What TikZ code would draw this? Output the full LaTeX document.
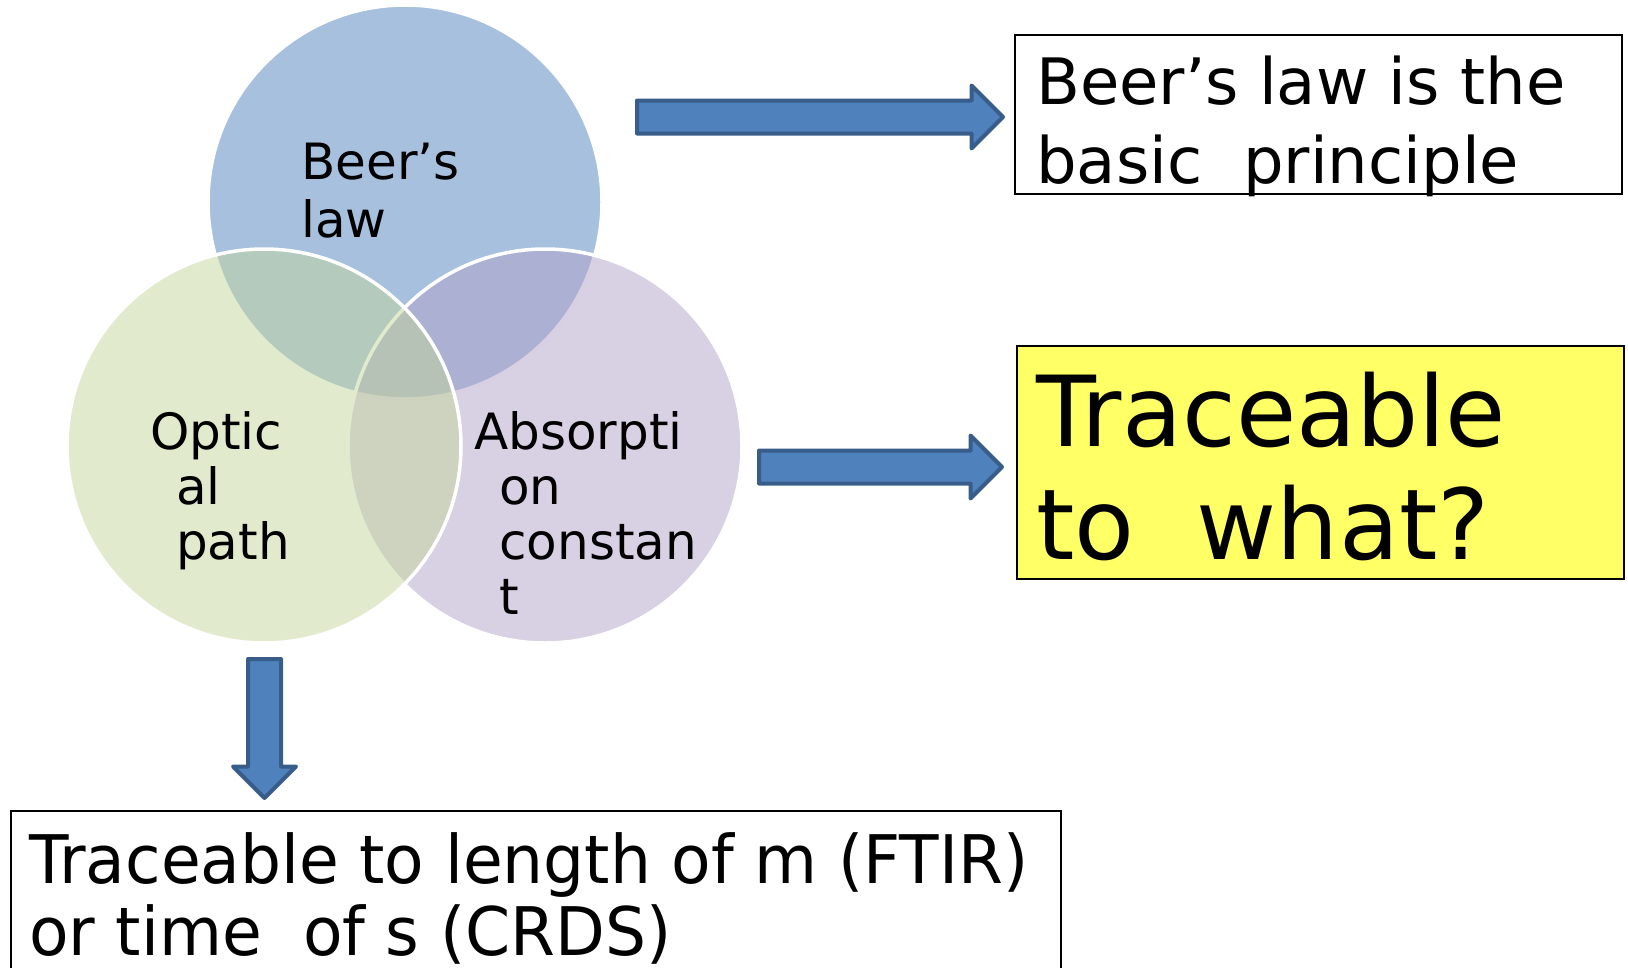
\documentclass[tikz,border=0pt]{standalone}
\usepackage{fontspec}
\setmainfont{DejaVu Sans}
\newfontfamily\narrowfont{DejaVu Sans}[FakeStretch=0.965]
\usetikzlibrary{shapes.arrows}
\definecolor{arrowfill}{HTML}{4F81BD}
\definecolor{arrowline}{HTML}{385D8A}
\definecolor{beerblue}{HTML}{4F81BD}
\definecolor{optgreen}{HTML}{C3D69B}
\definecolor{abspurple}{HTML}{B2A1C7}
\definecolor{notefill}{HTML}{FFFF66}
\begin{document}
\begin{tikzpicture}[x=1pt,y=-1pt,
	venn/.style={circle,draw=white,line width=3.5pt,fill opacity=0.5,minimum size=394pt,inner sep=0pt},
	blockarrow/.style={single arrow,draw=arrowline,fill=arrowfill,line width=4pt,line join=round,
		inner xsep=0pt,inner ysep=14.5pt,single arrow head extend=15pt,single arrow head indent=0pt,anchor=tail},
	box/.style={draw=black,line width=1.5pt,rectangle,inner sep=0pt,anchor=north west},
	txt/.style={anchor=base west,inner sep=0pt,align=left}]
	\useasboundingbox (0,0) rectangle (1628,967);
	
	% venn korok
	\node[venn,fill=beerblue] (beer) at (405,202) {};
	\node[venn,fill=abspurple] (absorp) at (545,446) {};
	\node[venn,fill=optgreen] (optic) at (264,446) {};
	
	% szovegek (base = utolso sor)
	\node[txt,font=\fontsize{50}{58}\selectfont] (beertxt) at (301,237) {Beer’s\\law};
	\node[txt,font=\fontsize{50}{55}\selectfont] (optictxt) at (150,559) {Optic\\\hspace*{26pt}al\\\hspace*{26pt}path};
	\node[txt,font=\fontsize{50}{55}\selectfont] (absorptxt) at (474,614) {Absorpti\\\hspace*{25pt}on\\\hspace*{25pt}constan\\\hspace*{25pt}t};
	
	% dobozok
	\node[box,minimum width=607pt,minimum height=159pt] (lawbox) at (1014,34) {};
	\node[txt,font=\fontsize{64}{79}\selectfont] (lawtxt) at ([shift={(22,149)}]lawbox.north west) {Beer’s law is the\\basic\ \ principle};
	
	\node[box,fill=notefill,minimum width=607pt,minimum height=233pt] (whatbox) at (1016,345) {};
	\node[txt,font=\fontsize{98}{113}\selectfont] (whattxt) at ([shift={(20,214)}]whatbox.north west) {Traceable\\to\ \ what?};
	
	\node[box,minimum width=1050pt,minimum height=190pt] (unitbox) at (10,810) {};
	\node[txt,font=\narrowfont\fontsize{67}{72}\selectfont] (unittxt) at ([shift={(19,145)}]unitbox.north west) {Traceable to length of m (FTIR)\\or time\ \ of s (CRDS)};
	
	% nyilak
	\node[blockarrow,minimum height=366pt] (arrlaw) at (635,117) {};
	\node[blockarrow,minimum height=243pt] (arrwhat) at (757,467) {};
	\node[blockarrow,shape border rotate=270,inner xsep=14.5pt,inner ysep=0pt,minimum height=139pt] (arrunit) at (264.5,657) {};
\end{tikzpicture}
\end{document}
